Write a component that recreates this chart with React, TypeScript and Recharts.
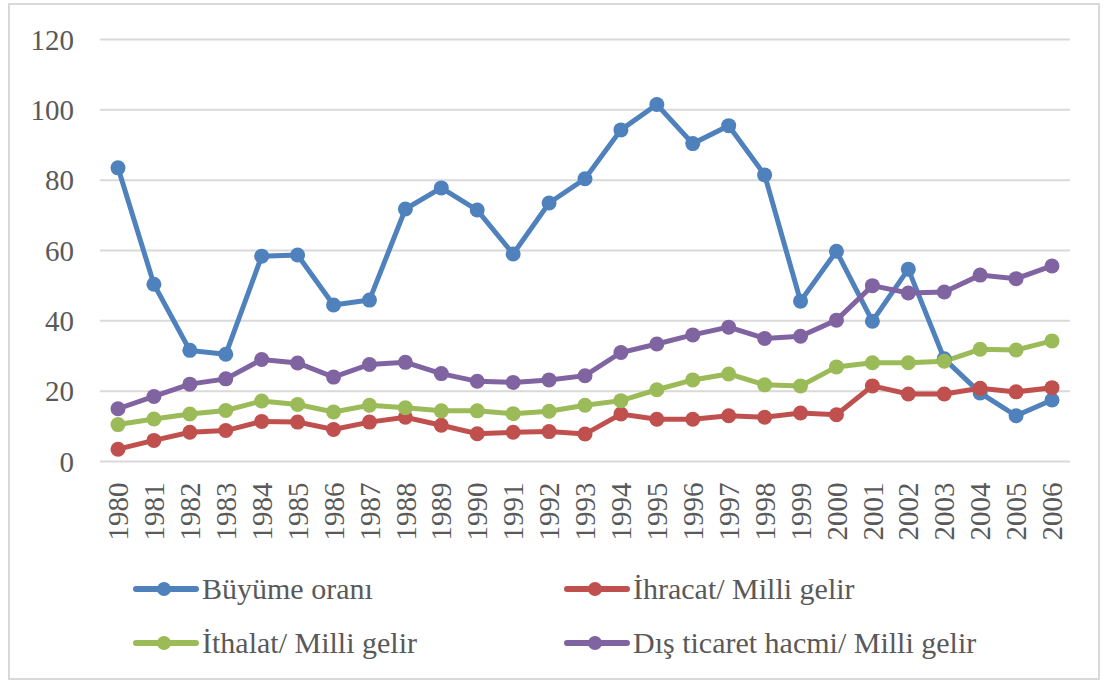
import React from "react";
import { LineChart, Line, XAxis, YAxis, CartesianGrid } from "recharts";

const years = [
  "1980", "1981", "1982", "1983", "1984", "1985", "1986", "1987", "1988",
  "1989", "1990", "1991", "1992", "1993", "1994", "1995", "1996", "1997",
  "1998", "1999", "2000", "2001", "2002", "2003", "2004", "2005", "2006",
];

const buyume = [
  83.5, 50.4, 31.6, 30.5, 58.4, 58.7, 44.5, 45.9, 71.8, 77.8, 71.5, 59, 73.5,
  80.4, 94.3, 101.5, 90.4, 95.5, 81.5, 45.6, 59.8, 39.9, 54.7, 29.2, 19.5, 13, 17.5,
];
const ihracat = [
  3.5, 6, 8.3, 8.8, 11.4, 11.2, 9.1, 11.2, 12.6, 10.3, 7.9, 8.3, 8.5, 7.8,
  13.5, 12, 12, 13, 12.6, 13.8, 13.3, 21.5, 19.2, 19.2, 20.8, 19.8, 21,
];
const ithalat = [
  10.5, 12.1, 13.5, 14.5, 17.2, 16.2, 14.1, 16, 15.3, 14.4, 14.4, 13.6, 14.3,
  16, 17.3, 20.4, 23.2, 24.9, 21.8, 21.5, 26.9, 28.1, 28.1, 28.5, 31.9, 31.7, 34.3,
];
const disTicaret = [
  15, 18.5, 22, 23.5, 29, 28, 24, 27.6, 28.2, 25, 22.8, 22.5, 23.2, 24.4, 31,
  33.4, 36, 38.2, 35, 35.6, 40.2, 50, 47.9, 48.2, 53, 52, 55.6,
];

const yTicks = [0, 20, 40, 60, 80, 100, 120];

const SERIES = [
  { key: "buyume", name: "Büyüme oranı", color: "#4F81BD" },
  { key: "ihracat", name: "İhracat/ Milli gelir", color: "#C0504D" },
  { key: "ithalat", name: "İthalat/ Milli gelir", color: "#9BBB59" },
  { key: "dis", name: "Dış ticaret hacmi/ Milli gelir", color: "#8064A2" },
];

const data = years.map((y, i) => ({
  year: y,
  buyume: buyume[i],
  ihracat: ihracat[i],
  ithalat: ithalat[i],
  dis: disTicaret[i],
}));

const FONT = "Liberation Serif, Tinos, Times New Roman, DejaVu Serif, serif";
const TEXT = "#595959";

function YearTick(props: any) {
  const { x, y, payload } = props;
  return (
    <g transform={`translate(${x},${y})`}>
      <text
        transform="rotate(-90)"
        textAnchor="end"
        dy="0.35em"
        style={{ fontFamily: FONT }}
        fontSize={29}
        fill={TEXT}
      >
        {payload.value}
      </text>
    </g>
  );
}

// legend positions as in the original (2 x 2 grid)
const LEGEND_POS = [
  { left: 133, top: 589 },
  { left: 564, top: 589 },
  { left: 133, top: 643 },
  { left: 564, top: 643 },
];

export default function App() {
  return (
    <div style={{ position: "absolute", left: 0, top: 0, width: 1105, height: 684, background: "#fff", fontFamily: FONT }}>
      <div
        style={{
          position: "absolute",
          left: 8,
          top: 3,
          width: 1092,
          height: 677,
          border: "2px solid #d9d9d9",
          boxSizing: "border-box",
        }}
      />
      <LineChart
        width={1105}
        height={684}
        data={data}
        margin={{ top: 39.5, right: 35, left: 0, bottom: 142.5 }}
        style={{ position: "absolute", left: 0, top: 0 }}
      >
        <CartesianGrid vertical={false} stroke="#d9d9d9" strokeWidth={2} />
        <XAxis
          dataKey="year"
          height={80}
          padding={{ left: 18, right: 18 }}
          axisLine={false}
          tickLine={false}
          tickSize={0}
          tickMargin={21}
          interval={0}
          tick={<YearTick />}
        />
        <YAxis
          width={100}
          domain={[0, 120]}
          ticks={yTicks}
          axisLine={false}
          tickLine={false}
          tickSize={0}
          tickMargin={26}
          tick={{ style: { fontFamily: FONT }, fontSize: 29, fill: TEXT }}
        />
        {SERIES.map((s) => (
          <Line
            key={s.key}
            dataKey={s.key}
            name={s.name}
            stroke={s.color}
            strokeWidth={5}
            dot={{ r: 7.5, fill: s.color, stroke: s.color, strokeWidth: 0 }}
            activeDot={false}
            isAnimationActive={false}
          />
        ))}
      </LineChart>
      {SERIES.map((s, i) => (
        <div
          key={s.key}
          style={{
            position: "absolute",
            left: LEGEND_POS[i].left,
            top: LEGEND_POS[i].top - 18,
            height: 36,
            display: "flex",
            alignItems: "center",
            fontFamily: FONT,
            fontSize: 30,
            color: TEXT,
            whiteSpace: "nowrap",
          }}
        >
          <svg width={66} height={16} style={{ marginRight: 3 }}>
            <line x1={3} y1={8} x2={63} y2={8} stroke={s.color} strokeWidth={6} strokeLinecap="round" />
            <circle cx={31} cy={8} r={7} fill={s.color} />
          </svg>
          <span>{s.name}</span>
        </div>
      ))}
    </div>
  );
}
